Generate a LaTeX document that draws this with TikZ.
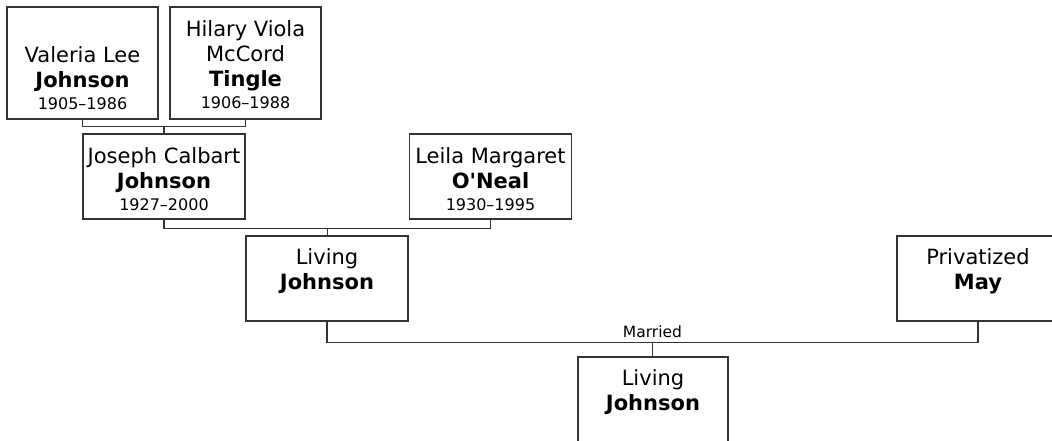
\documentclass[tikz,border=0pt]{standalone}
\usepackage{fontspec}
\setmainfont{DejaVu Sans}
\definecolor{boxline}{RGB}{51,51,51}
\usetikzlibrary{positioning,calc}
\newcommand{\namefont}{\fontsize{21}{25}\selectfont}
\newcommand{\datefont}{\fontsize{16}{21}\selectfont}

\begin{document}
\begin{tikzpicture}[x=1pt, y=1pt,
        person/.style={draw=boxline, line width=1.1pt, fill=white, inner sep=0pt},
        link/.style={draw=boxline, line width=1.1pt}]
    \clip (0,0) rectangle (1052,-441);
    \fill[white] (0,0) rectangle (1052,-441);

    % grandparents
    \node[person] (valeria) at (82.5,-63) {
        \begin{minipage}[c][112pt][t]{151pt}
            \centering\namefont
            \rule{0pt}{31pt}\\
            Valeria Lee\\
            \textbf{Johnson}\\[-3pt]
            {\datefont 1905--1986}
        \end{minipage}
    };
    \node[person] (hilary) at (245.5,-63) {
        \begin{minipage}[c][112pt][t]{151pt}
            \centering\namefont
            \rule{0pt}{30pt}Hilary Viola\\
            McCord\\
            \textbf{Tingle}\\[-3pt]
            {\datefont 1906--1988}
        \end{minipage}
    };

    % parents of father
    \node[person] (joseph) at (164,-176.5) {
        \begin{minipage}[c][85pt][t]{162pt}
            \centering\namefont
            \rule{0pt}{29pt}Joseph Calbart\\
            \textbf{Johnson}\\[-3pt]
            {\datefont 1927--2000}
        \end{minipage}
    };
    \node[person] (leila) at (490.5,-176.5) {
        \begin{minipage}[c][85pt][t]{162pt}
            \centering\namefont
            \rule{0pt}{29pt}Leila Margaret\\
            \textbf{O\textquotesingle Neal}\\[-3pt]
            {\datefont 1930--1995}
        \end{minipage}
    };

    % couple
    \node[person] (father) at (327,-278.5) {
        \begin{minipage}[c][85pt][t]{162pt}
            \centering\namefont
            \rule{0pt}{28pt}Living\\
            \textbf{Johnson}
        \end{minipage}
    };
    \node[person] (mother) at (978,-278.5) {
        \begin{minipage}[c][85pt][t]{162pt}
            \centering\namefont
            \rule{0pt}{28pt}Privatized\\
            \textbf{May}
        \end{minipage}
    };

    % child
    \node[person] (child) at (653,-401) {
        \begin{minipage}[c][88pt][t]{150pt}
            \centering\namefont
            \rule{0pt}{28pt}Living\\
            \textbf{Johnson}
        \end{minipage}
    };

    % family lines
    \coordinate (u1) at ($(valeria.south)!0.5!(hilary.south)+(0,-7)$);
    \coordinate (u2) at ($(joseph.south)!0.5!(leila.south)+(0,-9)$);
    \coordinate (u3) at ($(father.south)!0.5!(mother.south)+(0,-21)$);

    \draw[link] (valeria.south) |- (u1) -| (hilary.south);
    \draw[link] (u1) -- (u1 |- joseph.north);
    \draw[link] (joseph.south) |- (u2) -| (leila.south);
    \draw[link] (u2) -- (u2 |- father.north);
    \draw[link] (father.south) |- (u3) -| (mother.south);
    \draw[link] (u3) -- (u3 |- child.north);
    \node[anchor=base, font=\fontsize{15.5}{18}\selectfont, inner sep=0pt] (married) at ($(u3)+(0,5)$) {Married};
\end{tikzpicture}
\end{document}
